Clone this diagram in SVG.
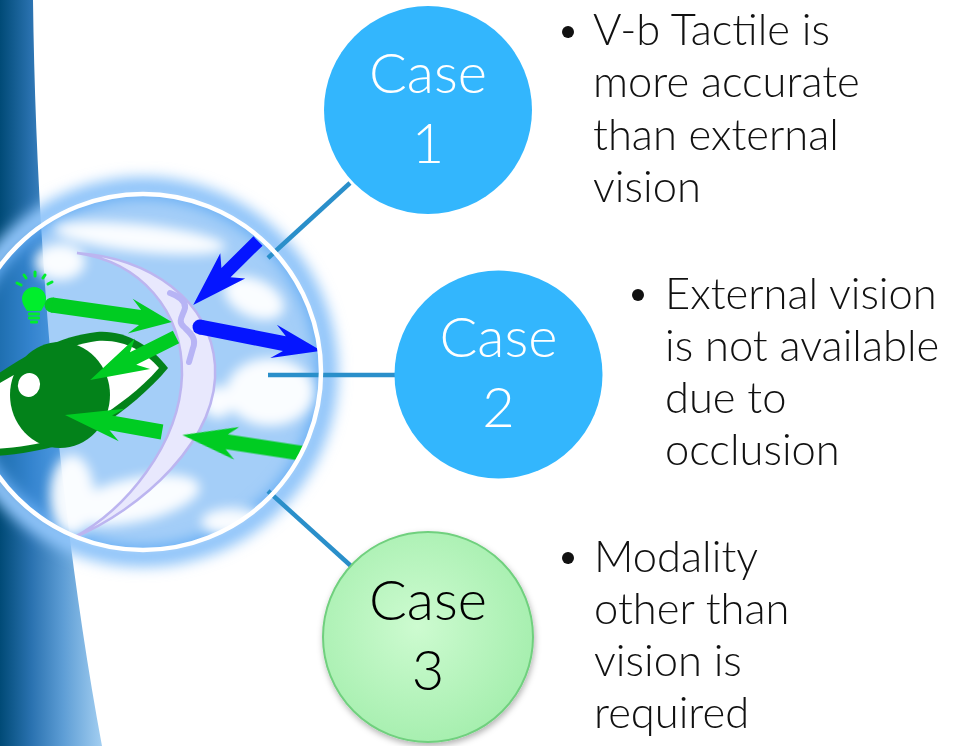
<svg xmlns="http://www.w3.org/2000/svg" width="960" height="746" viewBox="0 0 960 746">
  <defs>
    <style>
      .case-label { font-family: "Lato", "Open Sans", "Liberation Sans", sans-serif; font-weight: 300; font-size: 56px; text-anchor: middle; }
      .bullet { font-family: "Lato", "Open Sans", "Liberation Sans", sans-serif; font-weight: 300; font-size: 43.5px; fill: #111; }
      .connector { stroke: #2a8fca; stroke-width: 4.5; fill: none; }
      .green { fill: #00cc22; }
      .blue { fill: #0515ff; }
      .cloud { fill: #ffffff; }
    </style>
    <linearGradient id="bandGrad" gradientUnits="userSpaceOnUse" x1="0" y1="0" x2="105" y2="0">
      <stop offset="0" stop-color="#004a76"/>
      <stop offset="0.3" stop-color="#2a72b0"/>
      <stop offset="0.6" stop-color="#5d9dd5"/>
      <stop offset="1" stop-color="#a8d2f3"/>
    </linearGradient>
    <radialGradient id="greenGrad" cx="0.45" cy="0.45" r="0.6">
      <stop offset="0" stop-color="#cdfbd0"/>
      <stop offset="1" stop-color="#a4eead"/>
    </radialGradient>
    <filter id="glowBlur" x="-20%" y="-20%" width="140%" height="140%">
      <feGaussianBlur stdDeviation="7"/>
    </filter>
    <filter id="cloudBlur" x="-50%" y="-50%" width="200%" height="200%">
      <feGaussianBlur stdDeviation="6"/>
    </filter>
    <filter id="softShadow" x="-20%" y="-20%" width="140%" height="140%">
      <feDropShadow dx="1" dy="3" stdDeviation="3" flood-color="#000" flood-opacity="0.3"/>
    </filter>
    <clipPath id="globeClip">
      <circle cx="143" cy="372" r="177"/>
    </clipPath>
  </defs>

  <rect width="960" height="746" fill="#ffffff"/>

  <!-- blue band on the left edge -->
  <path d="M0,0 H33 C36,250 60,520 102,746 H0 Z" fill="url(#bandGrad)"/>

  <!-- globe with sensing illustration -->
  <g id="globe">
    <circle cx="143" cy="372" r="184" fill="none" stroke="#8fc4f9" stroke-width="22" filter="url(#glowBlur)"/>
    <circle cx="143" cy="372" r="178" fill="#4199f1" fill-opacity="0.48"/>
    <g clip-path="url(#globeClip)">
      <g filter="url(#cloudBlur)" opacity="0.95">
        <ellipse class="cloud" cx="140" cy="238" rx="86" ry="14" transform="rotate(6 140 238)"/>
        <ellipse class="cloud" cx="60" cy="262" rx="25" ry="18"/>
        <ellipse class="cloud" cx="254" cy="298" rx="32" ry="19" transform="rotate(25 254 298)"/>
        <ellipse class="cloud" cx="270" cy="392" rx="44" ry="34"/>
        <ellipse class="cloud" cx="218" cy="402" rx="16" ry="16"/>
        <ellipse class="cloud" cx="135" cy="500" rx="66" ry="22" transform="rotate(-12 135 500)"/>
        <ellipse class="cloud" cx="235" cy="522" rx="34" ry="14"/>
        <ellipse class="cloud" cx="72" cy="495" rx="22" ry="40"/>
      </g>

      <!-- crescent (lens) -->
      <path d="M77,253 C150,258 210,300 215,365 C220,440 140,510 73,538 C125,510 180,445 182,375 C183,310 140,262 77,253 Z" fill="#e8e8fd" stroke="#bcb5f0" stroke-width="2.5"/>
      <path d="M170,293 C178,296 186,300 185,308 C183,316 177,321 184,327 C190,333 197,338 193,348 L189,362" fill="none" stroke="#b7b4f5" stroke-width="6" stroke-linecap="round"/>

      <!-- eye -->
      <g id="eye">
        <path d="M-5,376 C25,355 60,336 97,332 C125,330 150,345 168,368 C150,390 125,410 100,427 C78,440 50,452 -5,456 Z" fill="#03821a"/>
        <path d="M-5,386 C30,365 65,345 97,341 C125,339 145,352 159,368 C140,390 118,405 96,420 C72,435 45,446 -5,449 Z" fill="#ffffff"/>
        <ellipse cx="60" cy="395" rx="50" ry="53" fill="#03821a"/>
        <ellipse cx="29" cy="385" rx="11" ry="12" transform="rotate(20 29 385)" fill="#ffffff"/>
      </g>

      <!-- light bulb -->
      <g id="bulb" fill="#00ee2c">
        <path d="M27,311 C24,306 22,303 22,299 A12,12 0 1 1 46,299 C46,303 44,306 41,311 Z"/>
        <rect x="28" y="312.5" width="12" height="3" rx="1"/>
        <rect x="28" y="316.5" width="12" height="3" rx="1"/>
        <rect x="30" y="320.5" width="8" height="3" rx="1"/>
        <g stroke="#00ee2c" stroke-width="3" stroke-linecap="round">
          <line x1="17" y1="283" x2="21" y2="285"/>
          <line x1="24" y1="275" x2="26" y2="278"/>
          <line x1="35" y1="272" x2="35" y2="276"/>
          <line x1="45" y1="275" x2="43" y2="278"/>
          <line x1="52" y1="282" x2="48" y2="284"/>
        </g>
      </g>

      <!-- green light rays -->
      <g id="ray-source" class="green" transform="translate(52,305) rotate(8.1)">
        <circle cx="0" cy="0" r="7.5"/>
        <polygon points="0,-7.5 89,-7.5 79,-17.5 121,0 79,17.5 89,7.5 0,7.5"/>
      </g>
      <g id="ray-reflect-1" class="green" transform="translate(176,337) rotate(153.4)">
        <polygon points="0,-7 48,-7 37.5,-17 96,0 37.5,17 48,7 0,7"/>
      </g>
      <g id="ray-reflect-2" class="green" transform="translate(162,432) rotate(190)">
        <polygon points="0,-7.5 52,-7.5 41,-16.5 98.5,0 41,16.5 52,7.5 0,7.5"/>
      </g>
      <g id="ray-incoming" class="green" transform="translate(300,453) rotate(188.7)">
        <polygon points="-10,-7.5 74,-7.5 64,-16.5 119,0 64,16.5 74,7.5 -10,7.5"/>
      </g>

      <!-- blue touch arrows -->
      <g id="touch-in" class="blue" transform="translate(258,241) rotate(135.4)">
        <polygon points="0,-6.5 45,-6.5 35.5,-17.7 91,0 35.5,17.7 45,6.5 0,6.5"/>
      </g>
      <g id="touch-out" class="blue" transform="translate(200,327) rotate(11.1)">
        <circle cx="0" cy="0" r="7.5"/>
        <polygon points="0,-7.5 86,-7.5 75,-17 124,0 75,17 86,7.5 0,7.5"/>
      </g>
    </g>
  </g>

  <!-- connectors -->
  <g id="connectors">
    <line class="connector" x1="268" y1="258" x2="350" y2="183"/>
    <line class="connector" x1="268" y1="375" x2="395" y2="375"/>
    <line class="connector" x1="268" y1="491" x2="351" y2="566"/>
  </g>

  <!-- globe rim -->
  <circle cx="143" cy="372" r="178" fill="none" stroke="#ffffff" stroke-width="4.5"/>

  <!-- case nodes -->
  <g id="case1">
    <circle cx="428" cy="110" r="104" fill="#33b6fd"/>
    <text class="case-label" x="428" y="93" fill="#ffffff">Case</text>
    <text class="case-label" x="428" y="163" fill="#ffffff">1</text>
  </g>
  <g id="case2">
    <circle cx="498.5" cy="374.5" r="104" fill="#33b6fd"/>
    <text class="case-label" x="498.5" y="357" fill="#ffffff">Case</text>
    <text class="case-label" x="498.5" y="427" fill="#ffffff">2</text>
  </g>
  <g id="case3">
    <circle cx="428" cy="637" r="105" fill="url(#greenGrad)" stroke="#70d07e" stroke-width="2" filter="url(#softShadow)"/>
    <text class="case-label" x="428" y="620" fill="#000000">Case</text>
    <text class="case-label" x="428" y="690" fill="#000000">3</text>
  </g>

  <!-- descriptions -->
  <g id="desc1">
    <circle cx="568" cy="32" r="6" fill="#111"/>
    <text class="bullet" x="593" y="45">V-b Tactile is</text>
    <text class="bullet" x="593" y="97">more accurate</text>
    <text class="bullet" x="593" y="150">than external</text>
    <text class="bullet" x="593" y="202">vision</text>
  </g>
  <g id="desc2">
    <circle cx="638" cy="295" r="6" fill="#111"/>
    <text class="bullet" x="665" y="309">External vision</text>
    <text class="bullet" x="665" y="361">is not available</text>
    <text class="bullet" x="665" y="413">due to</text>
    <text class="bullet" x="665" y="465">occlusion</text>
  </g>
  <g id="desc3">
    <circle cx="568" cy="558" r="6" fill="#111"/>
    <text class="bullet" x="594" y="572">Modality</text>
    <text class="bullet" x="594" y="624">other than</text>
    <text class="bullet" x="594" y="676">vision is</text>
    <text class="bullet" x="594" y="728">required</text>
  </g>
</svg>
